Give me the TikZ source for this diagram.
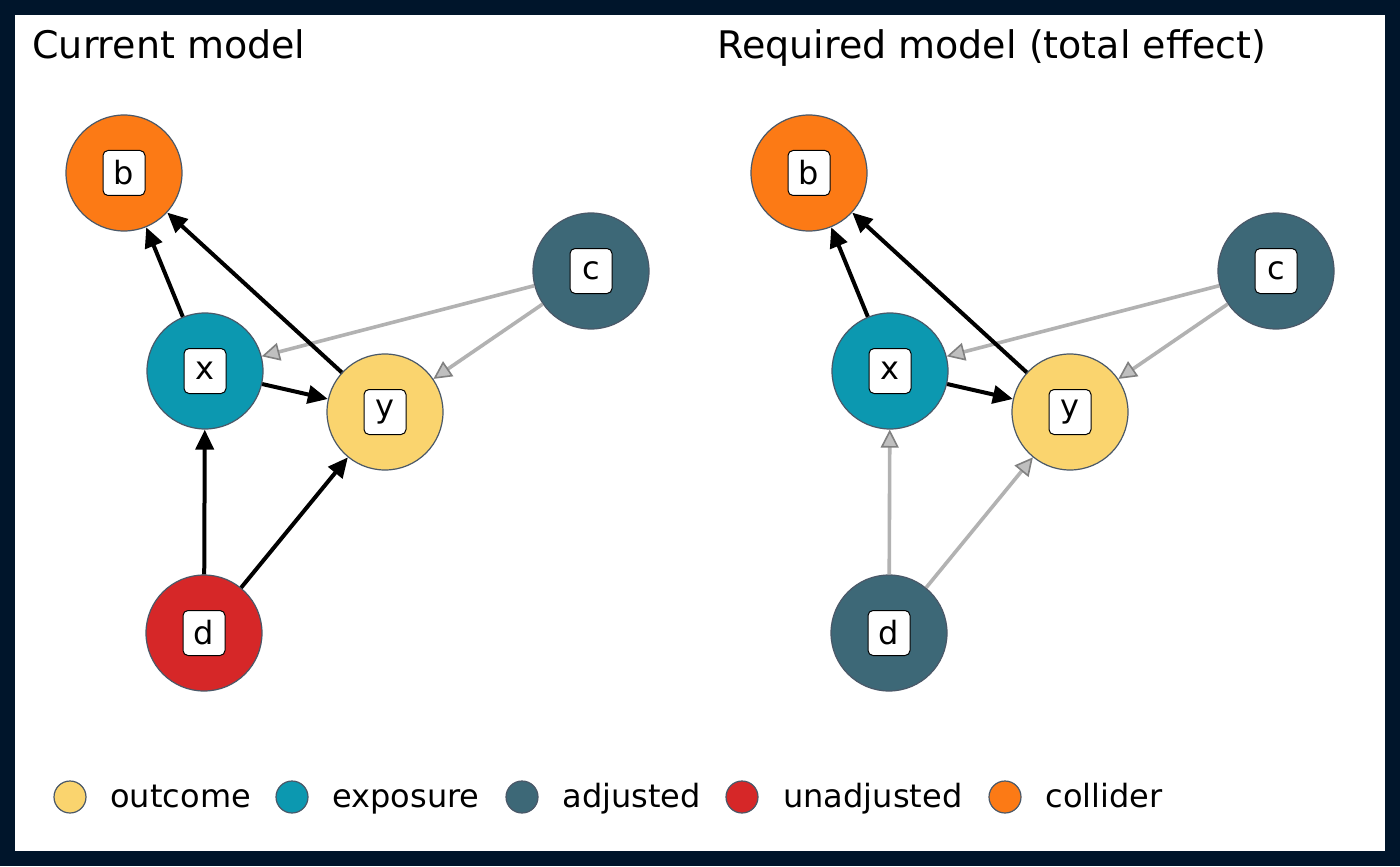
\documentclass[tikz,border=0pt]{standalone}
\usepackage{fontspec}
\setmainfont{DejaVu Sans}
\usetikzlibrary{positioning, arrows.meta}
\definecolor{outcomecol}{HTML}{FAD46E}
\definecolor{exposurecol}{HTML}{0C98B0}
\definecolor{adjustedcol}{HTML}{3D6877}
\definecolor{unadjustedcol}{HTML}{D62728}
\definecolor{collidercol}{HTML}{FC7A15}
\definecolor{framecol}{HTML}{00152B}
\definecolor{rimcol}{HTML}{4A5868}
\tikzstyle{var} = [circle, draw=rimcol, line width=0.6pt, minimum size=58pt, inner sep=0pt]
\tikzstyle{tag} = [rectangle, draw, fill=white, rounded corners=2.5pt,
    minimum width=21pt, minimum height=22.5pt, inner sep=0pt, line width=0.5pt,
    font=\fontsize{16}{19}\selectfont]
\tikzstyle{key} = [circle, draw=rimcol, line width=0.6pt, minimum size=16pt, inner sep=0pt]
\tikzstyle{keytext} = [anchor=base west, inner sep=0pt, font=\fontsize{16}{19}\selectfont]
\tikzstyle{title} = [anchor=base west, inner sep=0pt, font=\fontsize{19}{23}\selectfont]
\tikzstyle{line} = [draw, line width=2pt, -{Triangle[length=10pt, width=9pt]}]
\tikzstyle{faint} = [draw=black!30, line width=1.8pt,
    -{Triangle[length=9pt, width=9pt, color=black!50, fill=black!25, line width=0.8pt]}]

\begin{document}
\begin{tikzpicture}[x=0.5pt, y=-0.5pt]
  \fill[framecol] (0,0) rectangle (1400,866);
  \fill[white] (15,15) rectangle (1385,851);

  \node[title] (title1) at (32,59) {Current model};
  \node[title] (title2) at (717,59) {Required model (total effect)};

  % current model
  \node[var, fill=collidercol] (b) at (124,173) {};
  \node[var, fill=exposurecol] (x) at (205,371) {};
  \node[var, fill=outcomecol] (y) at (385,412) {};
  \node[var, fill=adjustedcol] (c) at (591,271) {};
  \node[var, fill=unadjustedcol] (d) at (204,633) {};

  % required model
  \node[var, fill=collidercol, right of=b, node distance=342.5pt] (b2) {};
  \node[var, fill=exposurecol, right of=x, node distance=342.5pt] (x2) {};
  \node[var, fill=outcomecol, right of=y, node distance=342.5pt] (y2) {};
  \node[var, fill=adjustedcol, right of=c, node distance=342.5pt] (c2) {};
  \node[var, fill=adjustedcol, right of=d, node distance=342.5pt] (d2) {};

  \path [faint] (c) -- (x);
  \path [faint] (c) -- (y);
  \path [line] (x) -- (b);
  \path [line] (y) -- (b);
  \path [line] (x) -- (y);
  \path [line] (d) -- (x);
  \path [line] (d) -- (y);

  \path [faint] (c2) -- (x2);
  \path [faint] (c2) -- (y2);
  \path [faint] (d2) -- (x2);
  \path [faint] (d2) -- (y2);
  \path [line] (x2) -- (b2);
  \path [line] (y2) -- (b2);
  \path [line] (x2) -- (y2);

  \node[tag] (b-tag) at (b) {b};
  \node[tag] (x-tag) at (x) {x};
  \node[tag] (y-tag) at (y) {y};
  \node[tag] (c-tag) at (c) {c};
  \node[tag] (d-tag) at (d) {d};
  \node[tag] (b2-tag) at (b2) {b};
  \node[tag] (x2-tag) at (x2) {x};
  \node[tag] (y2-tag) at (y2) {y};
  \node[tag] (c2-tag) at (c2) {c};
  \node[tag] (d2-tag) at (d2) {d};

  % legend
  \node[key, fill=outcomecol] (key1) at (70,797) {};
  \node[keytext] (key1-text) at (110,807) {outcome};
  \node[key, fill=exposurecol] (key2) at (292,797) {};
  \node[keytext] (key2-text) at (332,807) {exposure};
  \node[key, fill=adjustedcol] (key3) at (522,797) {};
  \node[keytext] (key3-text) at (562,807) {adjusted};
  \node[key, fill=unadjustedcol] (key4) at (742,797) {};
  \node[keytext] (key4-text) at (783,807) {unadjusted};
  \node[key, fill=collidercol] (key5) at (1005,797) {};
  \node[keytext] (key5-text) at (1045,807) {collider};
\end{tikzpicture}
\end{document}
